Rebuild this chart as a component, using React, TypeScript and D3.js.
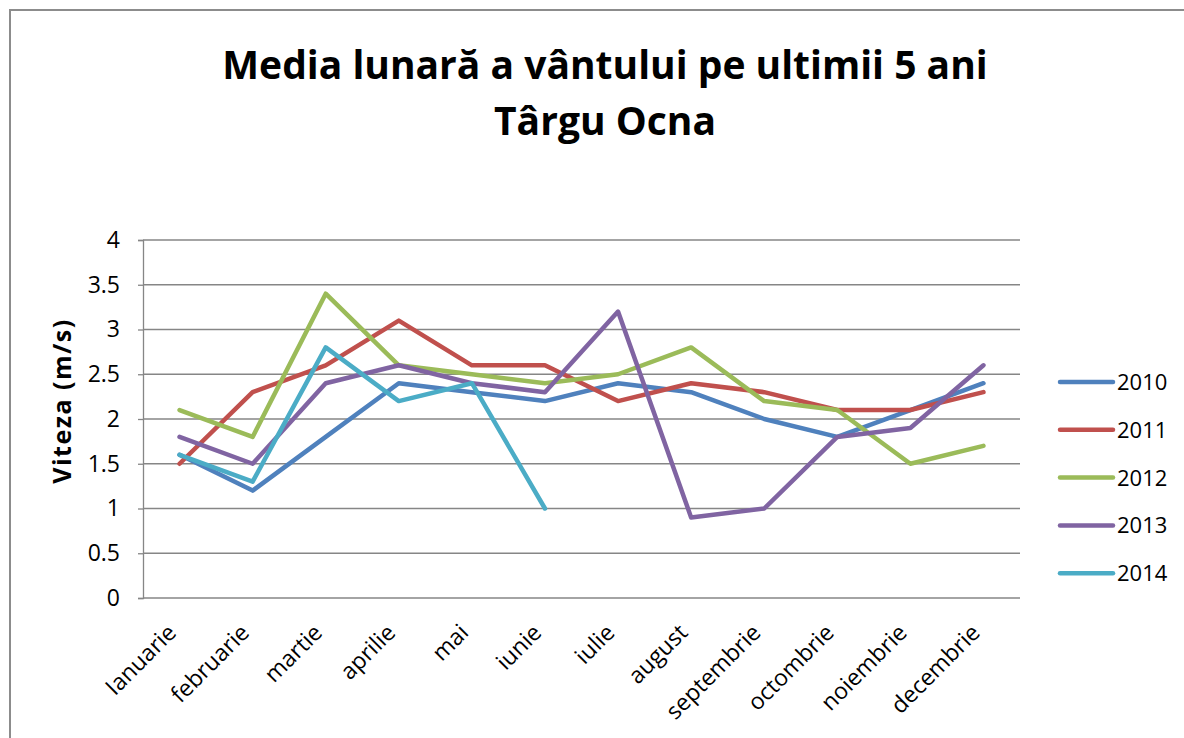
import React, { useRef, useEffect } from 'react'
import { select, scaleLinear, scaleBand, line, axisLeft } from 'd3'

const months = ['Ianuarie', 'februarie', 'martie', 'aprilie', 'mai', 'iunie', 'iulie', 'august', 'septembrie', 'octombrie', 'noiembrie', 'decembrie']
const years = ['2010', '2011', '2012', '2013', '2014']
const colors = ['#4F81BD', '#C0504D', '#9BBB59', '#8064A2', '#4BACC6']
const yTicks = [0, 0.5, 1, 1.5, 2, 2.5, 3, 3.5, 4]

const v2010 = [1.6, 1.2, 1.8, 2.4, 2.3, 2.2, 2.4, 2.3, 2.0, 1.8, 2.1, 2.4]
const v2011 = [1.5, 2.3, 2.6, 3.1, 2.6, 2.6, 2.2, 2.4, 2.3, 2.1, 2.1, 2.3]
const v2012 = [2.1, 1.8, 3.4, 2.6, 2.5, 2.4, 2.5, 2.8, 2.2, 2.1, 1.5, 1.7]
const v2013 = [1.8, 1.5, 2.4, 2.6, 2.4, 2.3, 3.2, 0.9, 1.0, 1.8, 1.9, 2.6]
const v2014 = [1.6, 1.3, 2.8, 2.2, 2.4, 1.0, null, null, null, null, null, null]

const series = [v2010, v2011, v2012, v2013, v2014]

const FONT = '"Open Sans", sans-serif'

const App = () => {
    const svgRef = useRef<SVGSVGElement>(null)

    useEffect(() => {
        const width = 1184
        const height = 738
        const left = 143, right = 1020, top = 240, bottom = 598

        const svg = select(svgRef.current)
        svg.selectAll('*').remove()

        svg.append('rect')
            .attr('width', width).attr('height', height)
            .attr('fill', '#fff')

        // outer chart border
        svg.append('rect')
            .attr('x', 10).attr('y', 10)
            .attr('width', width + 20).attr('height', height + 20)
            .attr('fill', 'none')
            .attr('stroke', '#8c8c8c')
            .attr('stroke-width', 2)

        const xScale = scaleBand<string>()
            .domain(months)
            .range([left, right])

        const yScale = scaleLinear()
            .domain([0, 4])
            .range([bottom, top])

        // gridlines
        svg.append('g')
            .selectAll('line')
            .data(yTicks)
            .join('line')
            .attr('x1', left).attr('x2', right)
            .attr('y1', d => yScale(d)).attr('y2', d => yScale(d))
            .attr('stroke', '#868686')
            .attr('stroke-width', 1.3)

        const yAxis = axisLeft(yScale)
            .tickValues(yTicks)
            .tickSize(5)
            .tickPadding(18)
            .tickFormat(d => String(d))

        const yG = svg.append('g')
            .attr('transform', `translate(${left},0)`)
            .call(yAxis)
        yG.select('.domain').attr('stroke', '#868686').attr('stroke-width', 1.3)
        yG.selectAll('.tick line').attr('stroke', '#868686').attr('stroke-width', 1.3)
        yG.selectAll('.tick text')
            .attr('fill', '#000')
            .style('font-family', FONT)
            .style('font-size', '23px')

        // x labels
        svg.append('g')
            .selectAll('text')
            .data(months)
            .join('text')
            .attr('transform', d => `translate(${xScale(d)! + xScale.bandwidth() / 2 - 2},${bottom + 36}) rotate(-45)`)
            .attr('text-anchor', 'end')
            .style('font-family', FONT)
            .style('font-size', '23px')
            .attr('fill', '#000')
            .text(d => d)

        const seriesLine = line<number | null>()
            .defined(d => d !== null)
            .x((d, i) => xScale(months[i])! + xScale.bandwidth() / 2)
            .y(d => yScale(d as number))

        svg.append('g')
            .selectAll('path')
            .data(series)
            .join('path')
            .attr('d', d => seriesLine(d))
            .attr('fill', 'none')
            .attr('stroke', (d, i) => colors[i])
            .attr('stroke-width', 4.5)
            .attr('stroke-linejoin', 'round')
            .attr('stroke-linecap', 'round')

        // legend
        const legend = svg.append('g')
            .selectAll('g')
            .data(years)
            .join('g')
            .attr('transform', (d, i) => `translate(1060,${382 + i * 47.8})`)
        legend.append('line')
            .attr('x1', 0).attr('x2', 53)
            .attr('stroke', (d, i) => colors[i])
            .attr('stroke-width', 4.5)
            .attr('stroke-linecap', 'round')
        legend.append('text')
            .attr('x', 57)
            .attr('dy', '0.36em')
            .style('font-family', FONT)
            .style('font-size', '22px')
            .attr('fill', '#000')
            .text(d => d)

        // titles
        svg.append('text')
            .attr('x', 605).attr('y', 79)
            .attr('text-anchor', 'middle')
            .style('font-family', FONT)
            .style('font-size', '39px')
            .style('font-weight', 'bold')
            .text('Media lunară a vântului pe ultimii 5 ani')
        svg.append('text')
            .attr('x', 605).attr('y', 135)
            .attr('text-anchor', 'middle')
            .style('font-family', FONT)
            .style('font-size', '39px')
            .style('font-weight', 'bold')
            .text('Târgu Ocna')

        svg.append('text')
            .attr('transform', `translate(62,${(top + bottom) / 2 - 18}) rotate(-90)`)
            .attr('text-anchor', 'middle')
            .attr('dy', '0.36em')
            .style('font-family', FONT)
            .style('font-size', '25px')
            .style('font-weight', 'bold')
            .style('letter-spacing', '1.5px')
            .text('Viteza (m/s)')
    }, [])

    return (
        <div style={{ position: 'absolute', left: 0, top: 0 }}>
            <svg width={1184} height={738} ref={svgRef} />
        </div>
    )
}

export default App
